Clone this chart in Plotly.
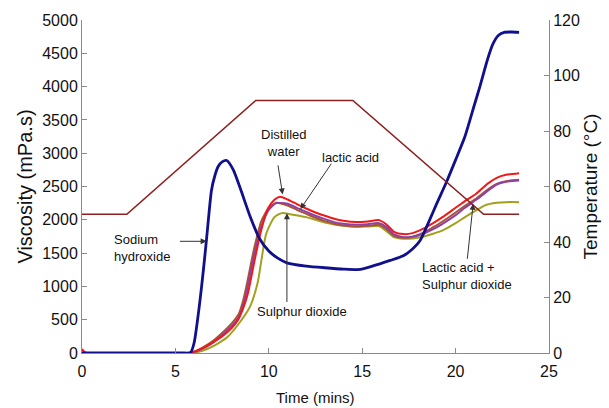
import plotly.graph_objects as go

# Temperature profile
temp_t = [0, 2.4, 9.3, 14.5, 21.5, 23.4]
temp_v = [50, 50, 91, 91, 50, 50]

# Sodium hydroxide (blue)
naoh_t = [0, 5.5, 5.8, 6.0, 6.3, 6.5, 6.67, 6.93, 7.1, 7.29, 7.5, 7.75, 8.1, 8.5, 9.0, 9.5, 10.0, 10.5,
          11.0, 12.0, 13.0, 14.0, 14.9, 15.5, 16.5, 17.2, 17.6, 18.1, 18.6, 19.0, 19.5, 20.0, 20.5, 21.0,
          21.3, 21.7, 22.0, 22.3, 22.6, 23.0, 23.4]
naoh_v = [0, 0, 0, 150, 750, 1250, 1720, 2440, 2650, 2800, 2870, 2890, 2750, 2450, 2050, 1720, 1530, 1420,
          1350, 1305, 1280, 1260, 1255, 1300, 1390, 1460, 1540, 1690, 1991, 2250, 2560, 2900, 3250, 3720,
          4000, 4400, 4640, 4770, 4815, 4820, 4815]

# Distilled water (red)
water_t = [0, 0.2, 5.6, 6.0, 6.5, 7.0, 7.5, 8.0, 8.35, 8.6, 8.88, 9.24, 9.59, 9.95, 10.3, 10.6, 11.0, 11.5, 12.0,
           12.5, 13.0, 13.5, 14.0, 14.7, 15.3, 15.9, 16.3, 16.7, 17.2, 17.7, 18.3, 18.8, 19.3, 20.0, 20.5,
           21.1, 21.7, 22.2, 22.7, 23.4]
water_v = [60, 5, 0, 20, 80, 160, 250, 370, 494, 650, 894, 1392, 1841, 2166, 2300, 2345, 2305, 2235, 2170,
           2110, 2060, 2015, 1985, 1966, 1975, 1995, 1930, 1820, 1785, 1800, 1870, 1950, 2040, 2180, 2280,
           2390, 2540, 2630, 2675, 2700]

# Lactic acid (brown)
lactic_t = [0, 5.6, 6.0, 6.5, 7.0, 7.5, 8.0, 8.4, 8.6, 8.8, 9.2, 9.6, 10.0, 10.4, 11.0, 11.5, 12.0, 12.5, 13.0,
            13.5, 14.0, 14.7, 15.3, 15.9, 16.3, 16.7, 17.2, 17.7, 18.3, 18.8, 19.3, 20.0, 20.5, 21.1, 21.7,
            22.2, 22.7, 23.4]
lactic_v = [0, 0, 20, 90, 180, 300, 440, 590, 760, 1000, 1550, 1980, 2180, 2255, 2215, 2150, 2090, 2030, 1980,
            1940, 1915, 1900, 1910, 1925, 1860, 1760, 1730, 1745, 1810, 1890, 1975, 2110, 2210, 2320, 2450,
            2540, 2580, 2600]

# Lactic acid + sulphur dioxide (purple)
lacso2_t = [0, 5.6, 6.0, 6.5, 7.0, 7.5, 8.0, 8.4, 8.6, 8.8, 9.2, 9.6, 10.0, 10.4, 11.0, 11.5, 12.0, 12.5, 13.0,
            13.5, 14.0, 14.7, 15.3, 15.9, 16.3, 16.7, 17.2, 17.7, 18.3, 18.8, 19.3, 20.0, 20.5, 21.1, 21.7,
            22.2, 22.7, 23.4]
lacso2_v = [0, 0, 15, 70, 150, 270, 400, 540, 690, 900, 1450, 1900, 2150, 2250, 2240, 2180, 2120, 2060, 2010,
            1965, 1940, 1925, 1935, 1950, 1890, 1780, 1740, 1745, 1795, 1860, 1940, 2070, 2180, 2300, 2430,
            2530, 2570, 2590]

# Sulphur dioxide (olive)
so2_t = [0, 5.8, 6.2, 6.7, 7.2, 7.8, 8.5, 9.0, 9.4, 9.86, 10.3, 10.7, 11.2, 12.0, 12.5, 13.0, 13.5, 14.0,
         14.7, 15.3, 15.9, 16.3, 16.7, 17.2, 17.7, 18.3, 18.8, 19.3, 20.0, 20.5, 21.1, 21.6, 22.2, 22.7, 23.4]
so2_v = [0, 0, 15, 60, 130, 244, 480, 700, 1050, 1790, 2040, 2100, 2080, 2040, 2000, 1960, 1930, 1910,
         1895, 1900, 1905, 1830, 1740, 1715, 1720, 1750, 1790, 1840, 1950, 2040, 2140, 2220, 2255, 2265, 2265]

x_ticks = [0, 5, 10, 15, 20, 25]
y_ticks = [0, 500, 1000, 1500, 2000, 2500, 3000, 3500, 4000, 4500, 5000]
y2_ticks = [0, 20, 40, 60, 80, 100, 120]

FONT = "Liberation Sans, Arial, sans-serif"

fig = go.Figure()
fig.add_trace(go.Scatter(x=temp_t, y=temp_v, yaxis="y2", mode="lines",
                         line=dict(color="#8E1F1F", width=1.6), name="Temperature"))
fig.add_trace(go.Scatter(x=so2_t, y=so2_v, mode="lines", line=dict(color="#A3A01E", width=2, shape="spline", smoothing=0.6),
                         name="Sulphur dioxide"))
fig.add_trace(go.Scatter(x=lactic_t, y=lactic_v, mode="lines", line=dict(color="#A8552E", width=2, shape="spline", smoothing=0.6),
                         name="Lactic acid"))
fig.add_trace(go.Scatter(x=lacso2_t, y=lacso2_v, mode="lines", line=dict(color="#8E3FA8", width=2, shape="spline", smoothing=0.6),
                         name="Lactic acid + Sulphur dioxide"))
fig.add_trace(go.Scatter(x=water_t, y=water_v, mode="lines", line=dict(color="#F01818", width=2, shape="spline", smoothing=0.6),
                         name="Distilled water"))
fig.add_trace(go.Scatter(x=naoh_t, y=naoh_v, mode="lines", line=dict(color="#10108E", width=2.8, shape="spline", smoothing=0.6),
                         name="Sodium hydroxide"))

afont = dict(family=FONT, size=13, color="#111")
arrow = dict(showarrow=True, arrowhead=2, arrowsize=1.2, arrowwidth=1, arrowcolor="#333",
             xref="x", yref="y", axref="x", ayref="y", text="")

ann = [
    # arrows
    dict(x=10.74, y=2380, ax=10.48, ay=2840, **arrow),
    dict(x=11.69, y=2160, ax=13.4, ay=2864, **arrow),
    dict(x=6.67, y=1677, ax=5.16, ay=1677, **arrow),
    dict(x=10.97, y=2100, ax=10.97, ay=744, **arrow),
    dict(x=20.94, y=2240, ax=20.62, ay=1392, **arrow),
    # labels
    dict(x=10.8, y=3160, text="Distilled<br>water", showarrow=False, font=afont, xref="x", yref="y", align="center"),
    dict(x=14.36, y=2934, text="lactic acid", showarrow=False, font=afont, xref="x", yref="y"),
    dict(x=1.6, y=1572, text="Sodium<br>hydroxide", showarrow=False, font=afont, xref="x", yref="y",
         xanchor="left", align="left"),
    dict(x=11.8, y=629, text="Sulphur dioxide", showarrow=False, font=afont, xref="x", yref="y"),
    dict(x=18.09, y=1153, text="Lactic acid +<br>Sulphur dioxide", showarrow=False, font=afont, xref="x", yref="y",
         xanchor="left", align="left"),
    # x-axis title
    dict(x=0.5, y=-0.135, xref="paper", yref="paper", text="Time (mins)", showarrow=False,
         font=dict(family=FONT, size=15, color="#111"), yanchor="middle"),
]

axis_common = dict(showline=True, linecolor="#8a8a8a", linewidth=1, ticks="inside", ticklen=5,
                   tickcolor="#8a8a8a", showgrid=False, zeroline=False,
                   tickfont=dict(family=FONT, size=16, color="#111"))

fig.update_layout(
    width=609, height=408,
    margin=dict(l=82, r=54, t=19, b=55),
    plot_bgcolor="white", paper_bgcolor="white",
    showlegend=False,
    annotations=ann,
    xaxis=dict(range=[0, 25], tickvals=x_ticks, ticklabelstandoff=4, **axis_common),
    yaxis=dict(range=[0, 5000], tickvals=y_ticks, **axis_common,
               title=dict(text="Viscosity (mPa.s)", font=dict(family=FONT, size=20, color="#111"),
                          standoff=4)),
    yaxis2=dict(range=[0, 120], tickvals=y2_ticks, overlaying="y", side="right", **axis_common,
                title=dict(text="Temperature (°C)", font=dict(family=FONT, size=19, color="#111"),
                           standoff=4)),
)

fig.write_html("out.html")
